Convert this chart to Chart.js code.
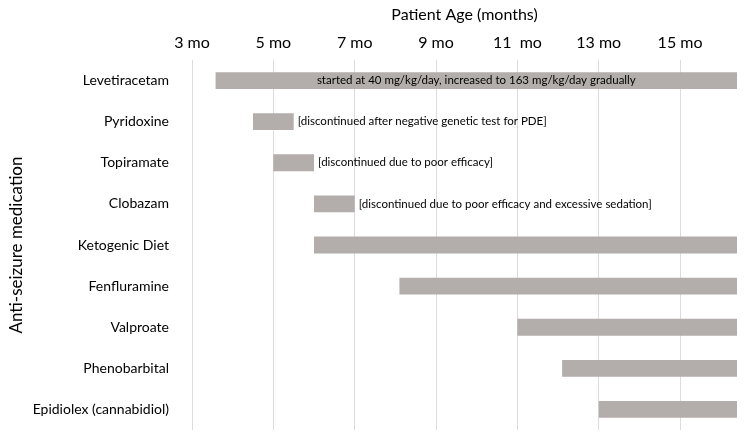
<!DOCTYPE html>
<html>
<head>
<meta charset="utf-8">
<script src="https://cdn.jsdelivr.net/npm/chart.js@4"></script>
<style>
    html, body { margin: 0; padding: 0; background: #fff; overflow: hidden; }
    canvas { display: block; }
</style>
</head>
<body>
<canvas id="gantt-chart" width="748" height="437"></canvas>
<script>
    "use strict";

    var medications = ["Levetiracetam", "Pyridoxine", "Topiramate", "Clobazam", "Ketogenic Diet",
        "Fenfluramine", "Valproate", "Phenobarbital", "Epidiolex (cannabidiol)"];
    var startAge = [3.58, 4.5, 5.0, 6.0, 6.0, 8.1, 11.0, 12.1, 13.0];
    var endAge = [16.4, 5.5, 6.0, 7.0, 16.4, 16.4, 16.4, 16.4, 16.4];
    var notes = [
        "started at 40 mg/kg/day, increased to 163 mg/kg/day gradually",
        "[discontinued after negative genetic test for PDE]",
        "[discontinued due to poor efficacy]",
        "[discontinued due to poor efficacy and excessive sedation]",
        "", "", "", "", ""
    ];
    var tickValues = [3, 5, 7, 9, 11, 13, 15];
    var tickLabels = ["3 mo", "5 mo", "7 mo", "9 mo", "11  mo", "13 mo", "15 mo"];

    var font = "Lato, 'Open Sans', sans-serif";

    // notes: first one sits inside its bar, the rest just right of the bar end
    var notesPlugin = {
        id: "notes",
        afterDatasetsDraw: function (chart) {
            var ctx = chart.ctx;
            var bars = chart.getDatasetMeta(0).data;
            ctx.save();
            ctx.font = "11.5px " + font;
            ctx.fillStyle = "#000";
            ctx.textBaseline = "middle";
            bars.forEach(function (bar, i) {
                if (!notes[i]) return;
                if (i === 0) {
                    ctx.textAlign = "center";
                    ctx.fillText(notes[i], (bar.x + bar.base) / 2, bar.y);
                } else {
                    ctx.textAlign = "left";
                    ctx.fillText(notes[i], bar.x + 4, bar.y);
                }
            });
            ctx.restore();
        }
    };

    var ctx = document.getElementById("gantt-chart").getContext("2d");
    var myChart = new Chart(ctx, {
        type: "bar",
        data: {
            labels: medications,
            datasets: [{
                data: startAge.map(function (s, i) { return [s, endAge[i]]; }),
                backgroundColor: "#b3adab",
                borderWidth: 0,
                barPercentage: 0.41,
                categoryPercentage: 1
            }]
        },
        options: {
            indexAxis: "y",
            responsive: false,
            animation: false,
            layout: { padding: { top: 0, right: 11, bottom: 7, left: 0 } },
            plugins: {
                legend: { display: false },
                tooltip: { enabled: false }
            },
            scales: {
                x: {
                    position: "top",
                    min: 3,
                    max: 16.4,
                    afterBuildTicks: function (scale) {
                        scale.ticks = tickValues.map(function (v) { return { value: v }; });
                    },
                    afterFit: function (scale) { scale.height = 60; },
                    grid: { color: "#dcdcdc", lineWidth: 1, drawTicks: false },
                    border: { display: false },
                    ticks: {
                        color: "#000",
                        font: { family: font, size: 16 },
                        padding: 8,
                        maxRotation: 0,
                        callback: function (value) {
                            return tickLabels[tickValues.indexOf(value)];
                        }
                    },
                    title: {
                        display: true,
                        text: "Patient Age (months)",
                        color: "#000",
                        font: { family: font, size: 16 },
                        padding: { top: 5, bottom: 4 }
                    }
                },
                y: {
                    afterFit: function (scale) {
                        scale.width = 192;
                        scale.paddingTop = 0;
                        scale.paddingBottom = 0;
                    },
                    grid: { display: false },
                    border: { display: false },
                    ticks: {
                        color: "#000",
                        font: { family: font, size: 14 },
                        padding: 15
                    },
                    title: {
                        display: true,
                        text: "Anti-seizure medication",
                        color: "#000",
                        font: { family: font, size: 17 },
                        padding: { top: 6, bottom: 0 }
                    }
                }
            }
        },
        plugins: [notesPlugin]
    });
</script>
</body>
</html>
